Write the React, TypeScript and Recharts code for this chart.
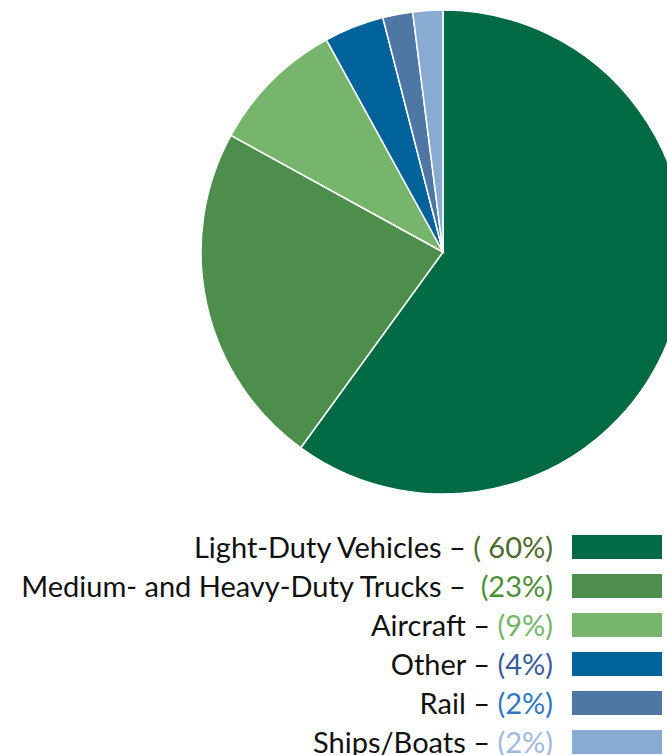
import React from 'react';
import { PieChart, Pie, Cell, Legend } from 'recharts';

const categories = ['Light-Duty Vehicles', 'Medium- and Heavy-Duty Trucks', 'Aircraft', 'Other', 'Rail', 'Ships/Boats'];
const shares = [60, 23, 9, 4, 2, 2];
const shareLabels = ['( 60%)', ' (23%)', '(9%)', '(4%)', '(2%)', '(2%)'];
const sliceColors = ['#006A44', '#4E8E4C', '#76B56B', '#00629A', '#4E78A3', '#88ABD1'];
const labelColors = ['#4E6B2E', '#4E8E3A', '#76B56B', '#3A5C9C', '#2F78BE', '#9FB8E0'];

const data = categories.map((name, i) => ({ name, value: shares[i] }));

const LegendBlock = () => (
  <div style={{ width: 667, fontFamily: 'Lato, sans-serif', fontSize: 29 }}>
    {categories.map((name, i) => (
      <div key={name} style={{ display: 'flex', alignItems: 'center', height: 39 }}>
        <div style={{ width: 553, textAlign: 'right', color: '#111', whiteSpace: 'pre', lineHeight: 1 }}>
          {name} – <span style={{ color: labelColors[i] }}>{shareLabels[i]}</span>
        </div>
        <div style={{ marginLeft: 19, width: 90, height: 24, background: sliceColors[i] }} />
      </div>
    ))}
  </div>
);

export default function App() {
  return (
    <div style={{ position: 'absolute', left: 0, top: 0, width: 667, height: 755, background: '#fff', overflow: 'hidden' }}>
      <PieChart width={667} height={755} margin={{ top: 0, right: 0, bottom: 0, left: 0 }}>
        <Pie
          data={data}
          dataKey="value"
          nameKey="name"
          cx={443}
          cy={252}
          outerRadius={242}
          startAngle={90}
          endAngle={-270}
          stroke="#ffffff"
          strokeWidth={1.5}
          isAnimationActive={false}
        >
          {data.map((d, i) => (
            <Cell key={d.name} fill={sliceColors[i]} />
          ))}
        </Pie>
        <Legend content={() => <LegendBlock />} wrapperStyle={{ position: 'absolute', top: 527, left: 0, width: 667 }} />
      </PieChart>
    </div>
  );
}
